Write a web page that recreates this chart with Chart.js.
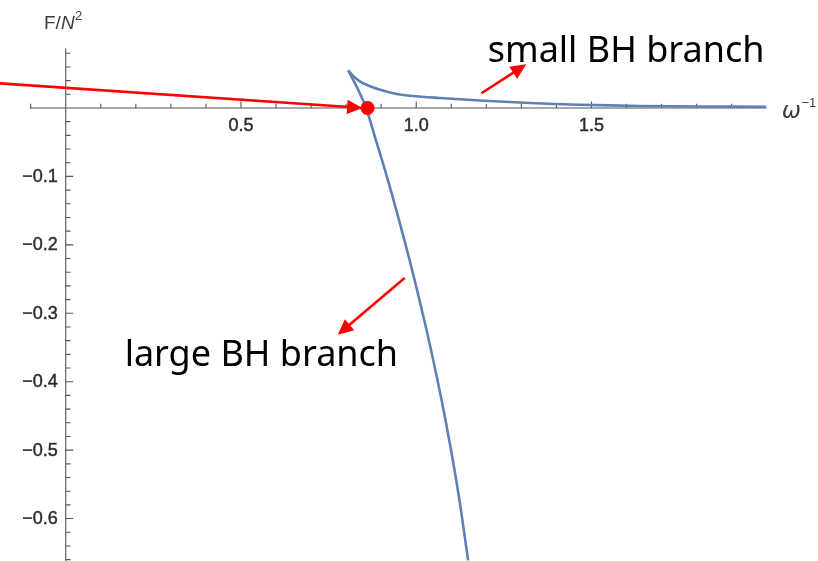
<!DOCTYPE html>
<html>
<head>
<meta charset="utf-8">
<script src="https://cdn.jsdelivr.net/npm/chart.js@4/dist/chart.umd.min.js"></script>
<style>
  html, body { margin: 0; padding: 0; background: #ffffff; }
  #wrap { width: 818px; height: 561px; }
</style>
</head>
<body>
<div id="wrap"><canvas id="c" width="818" height="561"></canvas></div>
<script>
// Free energy F/N^2 against inverse frequency ω^-1.
// Small black hole branch: from the cusp out to large ω^-1.
const smallBranchX = [0.806, 0.824, 0.847, 0.895, 0.944, 0.989, 1.067, 1.181, 1.324, 1.467, 1.638, 1.809, 1.998];
const smallBranchY = [0.055, 0.045, 0.0365, 0.027, 0.0205, 0.0175, 0.0146, 0.011, 0.0073, 0.0048, 0.003, 0.0022, 0.0018];

// Large black hole branch: from the cusp steeply downward.
const largeBranchX = [0.806, 0.835, 0.857, 0.885, 0.919, 0.951, 0.981, 1.009, 1.042, 1.072, 1.099, 1.123, 1.148];
const largeBranchY = [0.055, 0.026, 0.000, -0.047, -0.105, -0.164, -0.222, -0.280, -0.353, -0.426, -0.499, -0.572, -0.661];

// Point where the large branch crosses F = 0.
const crossingX = [0.861];
const crossingY = [0];

// Axis tick labels.
const xTickValues = [0.5, 1.0, 1.5];
const xTickLabels = ['0.5', '1.0', '1.5'];
const yTickValues = [-0.1, -0.2, -0.3, -0.4, -0.5, -0.6];
const yTickLabels = ['\u22120.1', '\u22120.2', '\u22120.3', '\u22120.4', '\u22120.5', '\u22120.6'];

// Red call-out arrows and their captions, in data coordinates.
const arrows = [
  { from: [-0.19, 0.036], to: [0.847, 0.0] },
  { from: [1.186, 0.0215], to: [1.314, 0.0638] },
  { from: [0.967, -0.2486], to: [0.776, -0.3314] }
];
const captions = [
  { text: 'small BH branch', at: [1.204, 0.0676] },
  { text: 'large BH branch', at: [0.168, -0.3777] }
];

const toPoints = (xs, ys) => xs.map((v, i) => ({ x: v, y: ys[i] }));

const CURVE = 'rgb(94,129,181)';
const AXIS = 'rgb(85,85,85)';
const LABEL = 'rgb(45,45,45)';
const RED = 'rgb(255,0,0)';

// Axes crossing at the origin, with Mathematica-style inward ticks.
const crossAxes = {
  id: 'crossAxes',
  beforeDatasetsDraw(chart) {
    const { ctx, scales: { x, y }, chartArea } = chart;
    const x0 = x.getPixelForValue(0);
    const y0 = y.getPixelForValue(0);
    ctx.save();
    ctx.strokeStyle = AXIS;
    ctx.lineWidth = 1.1;
    ctx.beginPath();
    ctx.moveTo(chartArea.left - 1, y0);
    ctx.lineTo(chartArea.right, y0);
    ctx.moveTo(x0, chartArea.top + 2);
    ctx.lineTo(x0, chartArea.bottom + 2);
    ctx.stroke();

    // x ticks every 0.1, longer at every 0.5
    ctx.beginPath();
    for (let i = -1; i <= 19; i++) {
      if (i === 0) continue;
      const px = x.getPixelForValue(i / 10);
      const len = (i % 5 === 0) ? 6.5 : 4.2;
      ctx.moveTo(px, y0);
      ctx.lineTo(px, y0 - len);
    }
    // y ticks every 0.02, longer at every 0.1
    for (let j = 4; j >= -33; j--) {
      if (j === 0) continue;
      const py = y.getPixelForValue(j / 50);
      const len = (j % 5 === 0) ? 7.5 : 4.8;
      ctx.moveTo(x0, py);
      ctx.lineTo(x0 + len, py);
    }
    ctx.stroke();

    // tick labels
    ctx.fillStyle = LABEL;
    ctx.strokeStyle = LABEL;
    ctx.lineWidth = 0.45;
    ctx.font = '18px "Liberation Sans", Arial, sans-serif';
    ctx.textAlign = 'center';
    ctx.textBaseline = 'middle';
    xTickValues.forEach((v, i) => {
      const px = x.getPixelForValue(v);
      ctx.fillText(xTickLabels[i], px, y0 + 18.5);
      ctx.strokeText(xTickLabels[i], px, y0 + 18.5);
    });
    ctx.textAlign = 'right';
    yTickValues.forEach((v, i) => {
      const py = y.getPixelForValue(v) + 0.5;
      ctx.fillText(yTickLabels[i], x0 - 8, py);
      ctx.strokeText(yTickLabels[i], x0 - 8, py);
    });

    // axis titles
    ctx.fillStyle = 'rgb(60,60,60)';
    ctx.textAlign = 'left';
    ctx.textBaseline = 'alphabetic';
    let cx = 44;
    const by = 28.5;
    ctx.font = '19px "Liberation Sans", Arial, sans-serif';
    ctx.fillText('F/', cx, by);
    cx += ctx.measureText('F/').width;
    ctx.font = 'italic 19px "Liberation Sans", Arial, sans-serif';
    ctx.fillText('N', cx, by);
    cx += ctx.measureText('N').width + 0.5;
    ctx.font = '13px "Liberation Sans", Arial, sans-serif';
    ctx.fillText('2', cx, by - 8.5);

    cx = x.right + 15;
    const wy = y0 + 10.5;
    ctx.font = 'italic 23px "DejaVu Sans", sans-serif';
    ctx.fillText('\u03c9', cx, wy);
    cx += ctx.measureText('\u03c9').width + 0.5;
    ctx.font = '13px "Liberation Sans", Arial, sans-serif';
    ctx.fillText('\u22121', cx, wy - 11);
    ctx.restore();
  },
  afterDatasetsDraw(chart) {
    const { ctx, scales: { x, y } } = chart;
    ctx.save();
    ctx.strokeStyle = RED;
    ctx.fillStyle = RED;
    ctx.lineWidth = 2.6;
    arrows.forEach(a => {
      const x1 = x.getPixelForValue(a.from[0]), y1 = y.getPixelForValue(a.from[1]);
      const x2 = x.getPixelForValue(a.to[0]), y2 = y.getPixelForValue(a.to[1]);
      const ang = Math.atan2(y2 - y1, x2 - x1);
      const head = 15.5, half = 7.2;
      const bx = x2 - head * Math.cos(ang), byy = y2 - head * Math.sin(ang);
      ctx.beginPath();
      ctx.moveTo(x1, y1);
      ctx.lineTo(bx + 2 * Math.cos(ang), byy + 2 * Math.sin(ang));
      ctx.stroke();
      ctx.beginPath();
      ctx.moveTo(x2, y2);
      ctx.lineTo(bx - half * Math.sin(ang), byy + half * Math.cos(ang));
      ctx.lineTo(bx + half * Math.sin(ang), byy - half * Math.cos(ang));
      ctx.closePath();
      ctx.fill();
    });

    ctx.fillStyle = '#000000';
    ctx.font = '36px "Noto Sans", sans-serif';
    ctx.textAlign = 'left';
    ctx.textBaseline = 'alphabetic';
    captions.forEach(c => {
      ctx.fillText(c.text, x.getPixelForValue(c.at[0]), y.getPixelForValue(c.at[1]));
    });
    ctx.restore();
  }
};

new Chart(document.getElementById('c'), {
  type: 'scatter',
  data: {
    datasets: [
      {
        label: 'F = 0 crossing',
        data: toPoints(crossingX, crossingY),
        backgroundColor: RED,
        borderColor: RED,
        pointRadius: 6.6,
        pointHoverRadius: 6.6,
        showLine: false,
        order: 0
      },
      {
        label: 'small BH branch',
        data: toPoints(smallBranchX, smallBranchY),
        borderColor: CURVE,
        borderWidth: 2.6,
        showLine: true,
        pointRadius: 0,
        tension: 0.35,
        order: 1
      },
      {
        label: 'large BH branch',
        data: toPoints(largeBranchX, largeBranchY),
        borderColor: CURVE,
        borderWidth: 2.6,
        showLine: true,
        pointRadius: 0,
        tension: 0.3,
        order: 2
      }
    ]
  },
  options: {
    responsive: false,
    animation: false,
    events: [],
    layout: { autoPadding: false, padding: { left: 30.7, right: 51.3, top: 46.4, bottom: 0 } },
    plugins: { legend: { display: false }, tooltip: { enabled: false } },
    scales: {
      x: { type: 'linear', min: -0.1, max: 2.0, display: false },
      y: { type: 'linear', min: -0.662, max: 0.09, display: false }
    }
  },
  plugins: [crossAxes]
});
</script>
</body>
</html>
